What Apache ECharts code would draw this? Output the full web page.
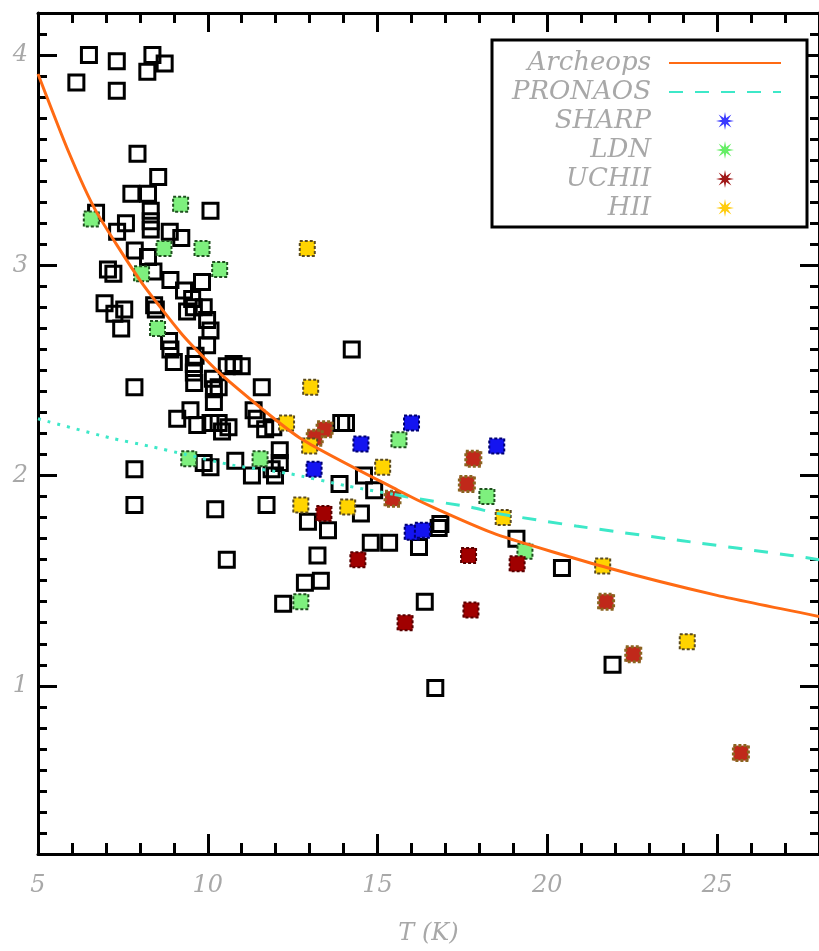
<!DOCTYPE html>
<html>
<head>
<meta charset="utf-8">
<title>beta - T</title>
<script src="https://cdn.jsdelivr.net/npm/echarts@6/dist/echarts.min.js"></script>
<style>
  html, body { margin: 0; padding: 0; background: #fff; }
  #chart { width: 819px; height: 951px; }
</style>
</head>
<body>
<div id="chart"></div>
<script>
// values: [T (K), beta]
var otherSources = [
  [6.50, 4.00], [7.32, 3.97], [8.37, 4.00], [8.73, 3.96], [8.22, 3.92], [6.13, 3.87], [7.32, 3.83],
  [7.93, 3.53], [8.54, 3.42], [7.75, 3.34], [8.24, 3.34], [8.32, 3.26], [8.32, 3.21], [8.32, 3.17],
  [10.08, 3.26], [7.59, 3.20], [7.33, 3.16], [6.71, 3.25], [8.88, 3.16], [9.22, 3.13], [7.85, 3.07],
  [8.24, 3.04], [7.06, 2.98], [7.22, 2.96], [8.40, 2.97], [8.90, 2.93], [9.83, 2.92], [9.30, 2.88],
  [9.54, 2.84], [9.88, 2.80], [9.59, 2.80], [8.42, 2.81], [9.39, 2.78], [9.98, 2.74], [10.08, 2.69],
  [8.86, 2.64], [8.90, 2.60], [9.98, 2.62], [9.64, 2.57], [9.59, 2.53], [9.00, 2.54], [10.76, 2.53],
  [10.56, 2.52], [11.00, 2.52], [9.59, 2.49], [9.60, 2.44], [10.15, 2.46], [10.18, 2.41], [10.32, 2.42],
  [11.59, 2.42], [7.84, 2.42], [6.96, 2.82], [7.54, 2.79], [7.25, 2.77], [7.45, 2.70], [8.47, 2.79],
  [10.18, 2.35], [9.49, 2.31], [9.10, 2.27], [9.69, 2.24], [10.08, 2.25], [10.32, 2.25], [10.61, 2.23],
  [10.42, 2.21], [11.35, 2.31], [11.44, 2.27], [11.69, 2.22], [11.93, 2.23], [12.12, 2.12], [12.12, 2.06],
  [9.88, 2.06], [10.08, 2.04], [10.81, 2.07], [11.30, 2.00], [11.88, 2.03], [11.98, 2.00], [7.84, 2.03],
  [7.84, 1.86], [10.22, 1.84], [11.73, 1.86], [10.56, 1.60], [14.24, 2.60], [13.93, 2.25], [14.07, 2.25],
  [13.88, 1.96], [14.60, 2.00], [14.90, 1.93], [14.51, 1.82], [12.95, 1.78], [13.54, 1.74], [16.85, 1.77],
  [16.80, 1.75], [16.22, 1.66], [14.80, 1.68], [15.34, 1.68], [19.09, 1.70], [13.23, 1.62], [12.86, 1.49],
  [13.33, 1.50], [12.22, 1.39], [16.39, 1.40], [20.43, 1.56], [21.92, 1.10], [16.70, 0.99]
];
var ldnSources = [
  [6.57, 3.22], [9.20, 3.29], [8.71, 3.08], [9.83, 3.08], [10.35, 2.98], [8.05, 2.96], [8.52, 2.70],
  [9.44, 2.08], [11.54, 2.08], [15.63, 2.17], [18.22, 1.90], [19.34, 1.64], [12.74, 1.40]
];
var sharpSources = [
  [14.51, 2.15], [16.00, 2.25], [13.13, 2.03], [18.51, 2.14], [16.02, 1.73], [16.32, 1.74]
];
var uchiiSources = [
  [13.44, 2.22], [13.15, 2.18], [17.82, 2.08], [17.63, 1.96], [15.44, 1.89], [21.73, 1.40],
  [22.53, 1.15], [25.70, 0.68]
];
var uchiiDarkSources = [
  [13.42, 1.82], [14.42, 1.60], [17.68, 1.62], [19.11, 1.58], [17.75, 1.36], [15.81, 1.30]
];
var hiiSources = [
  [12.93, 3.08], [13.03, 2.42], [12.32, 2.25], [13.00, 2.14], [15.15, 2.04], [12.74, 1.86],
  [14.12, 1.85], [18.70, 1.80], [21.63, 1.57], [24.12, 1.21]
];

// relations drawn as curves, points read along them
var archeopsCurve = [
  [5, 3.91], [5.9, 3.54], [6.7, 3.26], [8.0, 2.93], [9.25, 2.67], [10.4, 2.48], [12.7, 2.18],
  [15.6, 1.93], [16.75, 1.84], [18.5, 1.72], [21.8, 1.56], [25, 1.43], [28, 1.33]
];
var pronaosDotted = [
  [5, 2.27], [7.1, 2.18], [8.27, 2.14], [9.35, 2.10], [10.71, 2.05], [12.37, 2.01], [14.12, 1.95], [15.5, 1.91]
];
var pronaosDashed = [
  [15.5, 1.91], [16.17, 1.89], [17.73, 1.85], [18.51, 1.82], [20.85, 1.76], [23.97, 1.69], [27.18, 1.62], [28, 1.60]
];

var xMajor = [5, 10, 15, 20, 25];
var xMinor = [6, 7, 8, 9, 11, 12, 13, 14, 16, 17, 18, 19, 21, 22, 23, 24, 26, 27];
var yMajor = [1, 2, 3, 4];
var yMinor = [0.3, 0.4, 0.5, 0.6, 0.7, 0.8, 0.9, 1.1, 1.2, 1.3, 1.4, 1.5, 1.6, 1.7, 1.8, 1.9,
  2.1, 2.2, 2.3, 2.4, 2.5, 2.6, 2.7, 2.8, 2.9, 3.1, 3.2, 3.3, 3.4, 3.5, 3.6, 3.7, 3.8, 3.9, 4.1];

var starIcon = 'path://M20 10 L13.2 11.3 L17.1 17.1 L11.3 13.2 L10 20 L8.7 13.2 L2.9 17.1 L6.8 11.3 ' +
  'L0 10 L6.8 8.7 L2.9 2.9 L8.7 6.8 L10 0 L11.3 6.8 L17.1 2.9 L13.2 8.7 Z';

var greyFont = {
  fontFamily: 'DejaVu Serif',
  fontStyle: 'italic',
  fontSize: 24,
  color: '#a8a8a8'
};

function axisAt(dim, position, ticks, len, showLine, showLabel) {
  var ax = {
    type: 'value',
    position: position,
    min: dim === 'x' ? 5 : 0.2,
    max: dim === 'x' ? 28 : 4.2,
    axisLine: { show: showLine, onZero: false, lineStyle: { color: '#000', width: 3 } },
    axisTick: { show: true, inside: true, length: len, customValues: ticks, lineStyle: { color: '#000', width: 3 } },
    axisLabel: { show: showLabel },
    splitLine: { show: false }
  };
  if (showLabel) {
    ax.axisLabel = Object.assign({ show: true, customValues: ticks, margin: dim === 'x' ? 20 : 10 }, greyFont);
  }
  return ax;
}

function squares(name, data, fill, border, borderWidth, borderType, z) {
  return {
    name: name,
    type: 'scatter',
    data: data,
    symbol: 'rect',
    symbolSize: 15,
    z: z,
    itemStyle: { color: fill, borderColor: border, borderWidth: borderWidth, borderType: borderType, opacity: 1 }
  };
}

var chart = echarts.init(document.getElementById('chart'));

var xBottom = axisAt('x', 'bottom', xMajor, 20, true, true);
xBottom.name = 'T (K)';
xBottom.nameLocation = 'middle';
xBottom.nameGap = 68;
xBottom.nameTextStyle = greyFont;

chart.setOption({
  animation: false,
  backgroundColor: '#fff',
  grid: { left: 38, right: -7, top: 13, bottom: 86 },
  xAxis: [
    xBottom,
    axisAt('x', 'bottom', xMinor, 11, false, false),
    axisAt('x', 'top', xMajor, 19, true, false),
    axisAt('x', 'top', xMinor, 10, false, false)
  ],
  yAxis: [
    axisAt('y', 'left', yMajor, 19, true, true),
    axisAt('y', 'left', yMinor, 9, false, false),
    axisAt('y', 'right', yMajor, 19, true, false),
    axisAt('y', 'right', yMinor, 9, false, false)
  ],
  graphic: [{
    type: 'rect',
    z: 9,
    shape: { x: 492, y: 40, width: 315, height: 187 },
    style: { fill: '#fff', stroke: '#000', lineWidth: 3 }
  }],
  legend: {
    z: 10,
    orient: 'vertical',
    align: 'right',
    right: 32,
    top: 44,
    itemWidth: 112,
    itemHeight: 18,
    itemGap: 1,
    textStyle: {
      fontFamily: 'DejaVu Serif',
      fontStyle: 'italic',
      fontSize: 26,
      lineHeight: 28,
      color: '#a8a8a8',
      padding: [0, 13, 0, 0]
    },
    data: [
      { name: 'Archeops', itemStyle: { opacity: 0 } },
      { name: 'PRONAOS', itemStyle: { opacity: 0 } },
      { name: 'SHARP', icon: starIcon, itemStyle: { color: '#3a3aff', borderWidth: 0 } },
      { name: 'LDN', icon: starIcon, itemStyle: { color: '#66ee66', borderWidth: 0 } },
      { name: 'UCHII', icon: starIcon, itemStyle: { color: '#a01818', borderWidth: 0 } },
      { name: 'HII', icon: starIcon, itemStyle: { color: '#ffcc10', borderWidth: 0 } }
    ]
  },
  series: [
    squares('Other', otherSources, 'rgba(0,0,0,0)', '#000', 3, 'solid', 2),
    squares('LDN', ldnSources, '#7ef07e', '#1f4f1f', 2, [3, 2], 3),
    squares('SHARP', sharpSources, '#1414f0', '#000070', 2, [3, 2], 3),
    squares('UCHII', uchiiSources, '#c0281a', '#8a6420', 3, [3, 2], 3),
    squares('UCHII', uchiiDarkSources, '#a00000', '#580000', 2, [3, 2], 3),
    squares('HII', hiiSources, '#ffd400', '#5a4a20', 2, [3, 2], 3),
    {
      name: 'PRONAOS (extrapolated)',
      type: 'line',
      data: pronaosDotted,
      smooth: 0.2,
      symbol: 'none',
      z: 5,
      lineStyle: { color: '#3de8c8', width: 3, type: [3, 7] }
    },
    {
      name: 'PRONAOS',
      type: 'line',
      data: pronaosDashed,
      smooth: 0.2,
      symbol: 'none',
      z: 5,
      lineStyle: { color: '#3de8c8', width: 3, type: [14, 12] }
    },
    {
      name: 'Archeops',
      type: 'line',
      data: archeopsCurve,
      smooth: 0.2,
      symbol: 'none',
      z: 6,
      lineStyle: { color: '#ff6a13', width: 3 }
    }
  ]
});
</script>
</body>
</html>
